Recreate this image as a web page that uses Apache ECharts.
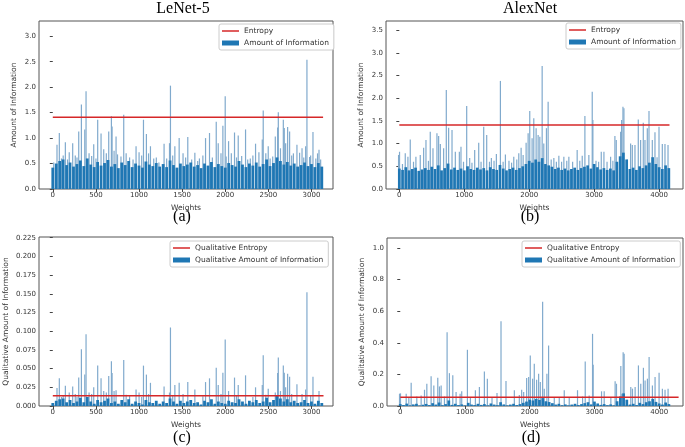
<!DOCTYPE html>
<html>
<head>
<meta charset="utf-8">
<script src="https://cdn.jsdelivr.net/npm/echarts@6/dist/echarts.min.js"></script>
<style>
html, body { margin: 0; padding: 0; background: #fff; }
#main { width: 685px; height: 447px; }
</style>
</head>
<body>
<div id="main"></div>
<script>
// dense low bars, one value every baseStep weights
var baseStepA = 40;
var baseA = [
  0.42,0.50,0.55,0.58,0.47,0.52,0.44,0.49,0.56,0.45,
  0.60,0.48,0.43,0.53,0.46,0.51,0.57,0.44,0.49,0.41,
  0.52,0.47,0.55,0.43,0.50,0.46,0.42,0.54,0.48,0.45,
  0.51,0.44,0.49,0.43,0.56,0.47,0.42,0.50,0.45,0.48,
  0.52,0.44,0.47,0.41,0.50,0.46,0.53,0.43,0.49,0.45,
  0.42,0.51,0.47,0.44,0.55,0.48,0.43,0.50,0.46,0.52,
  0.44,0.49,0.58,0.45,0.51,0.62,0.55,0.48,0.53,0.46,
  0.50,0.44,0.47,0.52,0.45,0.49,0.43,0.51,0.44
];
var baseStepB = 50;
var baseB = [
  0.45,0.42,0.48,0.41,0.44,0.47,0.40,0.43,0.46,0.42,
  0.49,0.44,0.52,0.41,0.46,0.56,0.43,0.47,0.42,0.45,
  0.41,0.50,0.44,0.42,0.47,0.43,0.46,0.41,0.48,0.44,
  0.42,0.53,0.45,0.41,0.44,0.47,0.42,0.46,0.50,0.55,
  0.62,0.58,0.65,0.60,0.68,0.55,0.52,0.49,0.44,0.47,
  0.42,0.45,0.41,0.44,0.47,0.42,0.46,0.49,0.52,0.45,
  0.55,0.48,0.43,0.46,0.42,0.45,0.41,0.60,0.72,0.80,
  0.65,0.44,0.47,0.42,0.50,0.46,0.52,0.58,0.70,0.55,
  0.48,0.44,0.52,0.46
];
var baseC = [
  0.004,0.007,0.009,0.010,0.005,0.008,0.004,0.006,0.011,0.005,
  0.012,0.006,0.003,0.008,0.005,0.007,0.010,0.004,0.006,0.003,
  0.008,0.005,0.009,0.003,0.006,0.004,0.002,0.008,0.005,0.004,
  0.007,0.003,0.006,0.004,0.010,0.006,0.003,0.007,0.004,0.006,
  0.008,0.004,0.005,0.002,0.007,0.005,0.009,0.003,0.006,0.004,
  0.003,0.007,0.005,0.004,0.009,0.006,0.003,0.007,0.005,0.008,
  0.004,0.006,0.011,0.005,0.008,0.014,0.010,0.006,0.009,0.005,
  0.007,0.004,0.005,0.008,0.004,0.006,0.003,0.007,0.004
];
var baseD = [
  0.012,0.006,0.015,0.004,0.010,0.014,0.003,0.008,0.013,0.006,
  0.018,0.009,0.022,0.005,0.012,0.035,0.007,0.014,0.006,0.010,
  0.004,0.020,0.009,0.006,0.014,0.007,0.012,0.004,0.016,0.009,
  0.005,0.024,0.010,0.004,0.009,0.014,0.006,0.012,0.020,0.028,
  0.040,0.035,0.045,0.038,0.050,0.030,0.025,0.018,0.009,0.014,
  0.005,0.010,0.004,0.009,0.014,0.006,0.012,0.018,0.024,0.010,
  0.028,0.016,0.007,0.012,0.005,0.010,0.004,0.030,0.060,0.080,
  0.040,0.009,0.014,0.006,0.020,0.012,0.024,0.030,0.045,0.026,
  0.016,0.009,0.022,0.012
];

// taller single weights [weight index, value]
var spikesA = [
  [20,0.52],[58,0.87],[85,1.10],[110,0.60],[155,0.92],[200,0.72],[240,0.90],[270,0.66],
  [310,1.13],[341,1.66],[380,1.17],[395,1.92],[430,0.70],[484,0.88],[530,1.36],[569,1.09],
  [600,0.78],[658,1.13],[689,1.43],[697,1.23],[743,1.03],[760,0.68],[832,1.46],[900,0.62],
  [975,0.84],[1010,0.72],[1061,1.36],[1095,1.08],[1142,0.84],[1180,0.60],[1240,0.52],[1300,0.89],
  [1330,0.60],[1363,0.90],[1374,2.03],[1425,0.84],[1475,1.00],[1520,0.70],[1575,1.02],[1620,0.58],
  [1657,0.71],[1710,0.60],[1781,1.00],[1827,1.10],[1860,0.62],[1905,1.32],[1928,0.90],[1982,1.24],
  [2009,1.82],[2048,0.94],[2080,0.70],[2117,1.11],[2160,1.05],[2200,0.65],[2245,1.17],[2300,0.60],
  [2361,0.89],[2400,0.72],[2439,0.97],[2450,1.54],[2508,0.84],[2560,0.64],[2590,1.03],[2617,1.21],
  [2625,1.51],[2683,1.36],[2694,1.20],[2733,1.22],[2756,1.13],[2800,0.70],[2841,0.87],[2872,0.71],
  [2900,0.80],[2942,0.84],[2957,2.54],[2988,0.63],[3027,1.12],[3060,0.60],[3097,0.77],[3116,0.58],
  [130,0.66],[180,0.58],[290,0.62],[460,0.65],[510,0.60],[630,0.70],[720,0.75],[800,0.64],
  [860,0.70],[940,0.58],[1040,0.66],[1120,0.70],[1210,0.62],[1400,0.66],[1550,0.62],[1690,0.55],
  [1750,0.66],[1960,0.70],[2020,0.64],[2140,0.62],[2270,0.58],[2330,0.66],[2480,0.70],[2530,0.60],
  [2650,0.80],[2710,0.90],[2780,0.66],[2920,0.62],[3000,0.66],[3080,0.70]
];
var spikesB = [
  [0,0.75],[15,0.82],[60,0.55],[103,0.79],[144,0.71],[180,1.09],[230,0.60],[267,0.71],
  [334,0.75],[386,0.91],[422,1.08],[460,0.62],[488,1.26],[530,0.90],[591,1.23],[617,1.17],
  [643,0.99],[694,0.90],[735,2.18],[771,1.35],[823,1.30],[874,0.82],[936,0.82],[961,0.93],
  [1000,0.60],[1049,1.83],[1095,0.68],[1130,0.58],[1172,0.86],[1234,1.02],[1270,0.60],[1311,1.37],
  [1357,1.19],[1400,0.60],[1429,0.68],[1470,0.62],[1506,0.77],[1568,2.38],[1610,0.60],[1645,0.76],
  [1700,0.62],[1740,0.58],[1774,0.71],[1820,0.65],[1851,0.79],[1887,0.91],[1918,0.75],[1964,1.02],
  [1995,1.23],[2020,1.72],[2056,1.12],[2082,1.56],[2118,1.34],[2149,1.19],[2175,1.15],[2211,2.71],
  [2236,1.00],[2277,1.34],[2303,1.92],[2350,0.65],[2391,0.68],[2430,0.60],[2468,0.73],[2510,0.60],
  [2545,0.71],[2590,0.62],[2622,0.71],[2680,0.60],[2750,0.86],[2790,0.62],[2828,0.73],[2869,1.61],
  [2930,0.75],[2982,2.14],[2992,1.52],[3040,0.62],[3080,0.60],[3121,0.82],[3162,0.82],[3210,0.60],
  [3265,0.71],[3300,0.62],[3331,1.17],[3352,1.08],[3419,1.26],[3434,1.52],[3455,1.81],[3470,1.78],
  [3520,0.65],[3573,1.00],[3599,0.97],[3640,0.97],[3691,1.53],[3727,1.08],[3768,1.46],[3794,1.08],
  [3830,1.34],[3856,1.72],[3907,1.08],[3948,1.25],[3980,0.70],[4010,1.37],[4061,0.99],[4102,0.99],
  [4149,0.97]
];
var spikesC = [
  [58,0.024],[85,0.037],[110,0.012],[155,0.027],[200,0.018],[240,0.026],[270,0.016],[310,0.038],
  [341,0.076],[380,0.042],[395,0.096],[430,0.018],[484,0.025],[530,0.054],[569,0.037],[600,0.020],
  [658,0.040],[689,0.060],[697,0.044],[743,0.021],[832,0.0615],[900,0.014],[975,0.022],[1010,0.018],
  [1061,0.054],[1095,0.042],[1142,0.031],[1300,0.026],[1363,0.018],[1374,0.105],[1425,0.028],[1475,0.031],
  [1520,0.016],[1575,0.032],[1657,0.022],[1781,0.032],[1827,0.037],[1905,0.051],[1928,0.028],[1982,0.0445],
  [2009,0.089],[2048,0.020],[2117,0.038],[2160,0.028],[2245,0.041],[2361,0.025],[2439,0.028],[2450,0.068],
  [2508,0.023],[2590,0.018],[2617,0.044],[2625,0.065],[2683,0.054],[2694,0.0445],[2733,0.043],[2756,0.039],
  [2841,0.029],[2900,0.016],[2942,0.022],[2957,0.152],[3027,0.039],[3097,0.020],
  [130,0.014],[290,0.012],[460,0.016],[630,0.018],[720,0.020],[860,0.015],[1040,0.012],[1120,0.016],
  [1400,0.014],[1750,0.013],[1960,0.016],[2140,0.014],[2330,0.012],[2480,0.015],[2650,0.020],[2710,0.025],
  [2780,0.016],[3000,0.014]
];
var spikesD = [
  [0,0.078],[15,0.080],[103,0.078],[144,0.050],[180,0.147],[267,0.060],[334,0.067],[386,0.103],
  [422,0.141],[488,0.189],[530,0.130],[591,0.179],[617,0.124],[643,0.130],[694,0.060],[735,0.467],
  [771,0.208],[823,0.194],[874,0.088],[936,0.078],[961,0.093],[1049,0.356],[1095,0.050],[1172,0.099],
  [1234,0.120],[1311,0.219],[1357,0.173],[1429,0.050],[1506,0.082],[1568,0.537],[1645,0.158],[1774,0.099],
  [1851,0.070],[1887,0.103],[1918,0.088],[1964,0.177],[1995,0.183],[2020,0.320],[2056,0.173],[2082,0.267],
  [2118,0.166],[2149,0.204],[2175,0.152],[2211,0.661],[2236,0.110],[2277,0.204],[2303,0.383],[2391,0.050],
  [2468,0.055],[2545,0.100],[2622,0.050],[2750,0.100],[2828,0.060],[2869,0.282],[2930,0.067],[2982,0.457],
  [2992,0.261],[3121,0.093],[3162,0.093],[3265,0.050],[3331,0.156],[3352,0.141],[3419,0.253],[3434,0.078],
  [3455,0.341],[3470,0.331],[3573,0.120],[3599,0.110],[3640,0.120],[3691,0.257],[3727,0.141],[3768,0.242],
  [3794,0.162],[3830,0.173],[3856,0.310],[3907,0.130],[3948,0.183],[4010,0.210],[4061,0.110],[4102,0.103],
  [4149,0.110]
];

// entropy lines: value and last weight index
var entropyA = 1.41, lastA = 3135;
var entropyB = 1.41, lastB = 4160;
var entropyC = 0.0138, lastC = 3140;
var entropyD = 0.056, lastD = 4300;

var xTicksA = [0, 500, 1000, 1500, 2000, 2500, 3000];
var xTicksB = [0, 1000, 2000, 3000, 4000];
var yTicksA = [0, 0.5, 1.0, 1.5, 2.0, 2.5, 3.0];
var yTicksB = [0, 0.5, 1.0, 1.5, 2.0, 2.5, 3.0, 3.5];
var yTicksC = [0, 0.025, 0.05, 0.075, 0.1, 0.125, 0.15, 0.175, 0.2, 0.225];
var yTicksD = [0, 0.2, 0.4, 0.6, 0.8, 1.0];

var FONT = 'DejaVu Sans';
var SERIF = 'Liberation Serif';
var DARK = '#1f77b4';
var LIGHT = '#80aacd';
var RED = '#d62728';
var TXT = '#333';

var chart = echarts.init(document.getElementById('main'));

function withSteps(values, step) {
    return values.map(function (v, i) { return [i * step, v]; });
}

function xAx(idx, range, ticks) {
    return {
        type: 'value', gridIndex: idx, min: range[0], max: range[1],
        name: 'Weights', nameLocation: 'middle', nameGap: 15,
        nameTextStyle: { fontFamily: FONT, fontSize: 7.5, color: TXT },
        axisLine: { show: false },
        axisTick: { show: true, length: 3, customValues: ticks, lineStyle: { color: '#444' } },
        axisLabel: {
            customValues: ticks, fontFamily: FONT, fontSize: 7, color: TXT, margin: 3,
            formatter: function (v) { return String(v); }
        },
        splitLine: { show: false }
    };
}

function yAx(idx, range, ticks, digits, name, gap) {
    return {
        type: 'value', gridIndex: idx, min: range[0], max: range[1],
        name: name, nameLocation: 'middle', nameGap: gap, nameRotate: 90,
        nameTextStyle: { fontFamily: FONT, fontSize: 7.5, color: TXT },
        axisLine: { show: false },
        axisTick: { show: true, length: 3, customValues: ticks, lineStyle: { color: '#444' } },
        axisLabel: {
            customValues: ticks, fontFamily: FONT, fontSize: 7, color: TXT, margin: 3,
            formatter: function (v) { return v.toFixed(digits); }
        },
        splitLine: { show: false }
    };
}

function panelSeries(idx, spikes, base, step, barW, entropy, last, lineName, barName) {
    return [
        {
            name: 'spikes' + idx, type: 'bar', xAxisIndex: idx, yAxisIndex: idx,
            data: spikes, barWidth: 1.2, barGap: '-100%',
            itemStyle: { color: LIGHT }, silent: true
        },
        {
            name: barName, type: 'bar', xAxisIndex: idx, yAxisIndex: idx,
            data: withSteps(base, step), barWidth: barW, barGap: '-100%',
            itemStyle: { color: DARK }, silent: true
        },
        {
            name: lineName, type: 'line', xAxisIndex: idx, yAxisIndex: idx,
            data: [[0, entropy], [last, entropy]], symbol: 'none',
            lineStyle: { color: RED, width: 1.5 }, itemStyle: { color: RED }, silent: true, z: 5
        }
    ];
}

function legendAt(left, top, lineName, barName) {
    return {
        orient: 'vertical', left: left, top: top,
        data: [
            { name: lineName, icon: 'path://M0,0H17V1.5H0Z' },
            { name: barName, icon: 'rect' }
        ],
        itemWidth: 17, itemHeight: 5, itemGap: 4,
        padding: [3, 5, 3, 3],
        backgroundColor: '#fff', borderColor: '#ccc', borderWidth: 1, borderRadius: 2,
        textStyle: { fontFamily: FONT, fontSize: 7.5, color: TXT },
        selectedMode: false
    };
}

function label(text, x, y, size) {
    return {
        type: 'text', x: x, y: y,
        style: { text: text, fontFamily: SERIF, fontSize: size, fill: '#000', align: 'center', verticalAlign: 'middle' }
    };
}

var gridStyle = { show: true, borderColor: '#555', borderWidth: 1, backgroundColor: 'transparent' };

var option = {
    animation: false,
    backgroundColor: '#fff',
    grid: [
        Object.assign({ left: 39, top: 21, width: 294, height: 168 }, gridStyle),
        Object.assign({ left: 386, top: 21, width: 297, height: 168 }, gridStyle),
        Object.assign({ left: 39, top: 237, width: 294, height: 169 }, gridStyle),
        Object.assign({ left: 387, top: 238, width: 296, height: 168 }, gridStyle)
    ],
    xAxis: [
        xAx(0, [-160, 3250], xTicksA),
        xAx(1, [-205, 4368], xTicksB),
        xAx(2, [-160, 3250], xTicksA),
        xAx(3, [-205, 4368], xTicksB)
    ],
    yAxis: [
        yAx(0, [0, 3.30], yTicksA, 1, 'Amount of Information', 21),
        yAx(1, [0, 3.70], yTicksB, 1, 'Amount of Information', 21),
        yAx(2, [0, 0.226], yTicksC, 3, 'Qualitative Amount of Information', 29),
        yAx(3, [0, 1.064], yTicksD, 1, 'Qualitative Amount of Information', 21)
    ],
    legend: [
        legendAt(219, 24, 'Entropy', 'Amount of Information'),
        legendAt(566, 23, 'Entropy', 'Amount of Information'),
        legendAt(170, 241, 'Qualitative Entropy', 'Qualitative Amount of Information'),
        legendAt(522, 241, 'Qualitative Entropy', 'Qualitative Amount of Information')
    ],
    series: [].concat(
        panelSeries(0, spikesA, baseA, baseStepA, 2.8, entropyA, lastA, 'Entropy', 'Amount of Information'),
        panelSeries(1, spikesB, baseB, baseStepB, 2.7, entropyB, lastB, 'Entropy', 'Amount of Information'),
        panelSeries(2, spikesC, baseC, baseStepA, 2.8, entropyC, lastC, 'Qualitative Entropy', 'Qualitative Amount of Information'),
        panelSeries(3, spikesD, baseD, baseStepB, 2.7, entropyD, lastD, 'Qualitative Entropy', 'Qualitative Amount of Information')
    ),
    graphic: [
        label('LeNet-5', 183, 9, 16),
        label('AlexNet', 530, 9, 16),
        label('(a)', 182, 217, 16),
        label('(b)', 530, 217, 16),
        label('(c)', 182, 438, 16),
        label('(d)', 531, 438, 16)
    ]
};

chart.setOption(option);
</script>
</body>
</html>
